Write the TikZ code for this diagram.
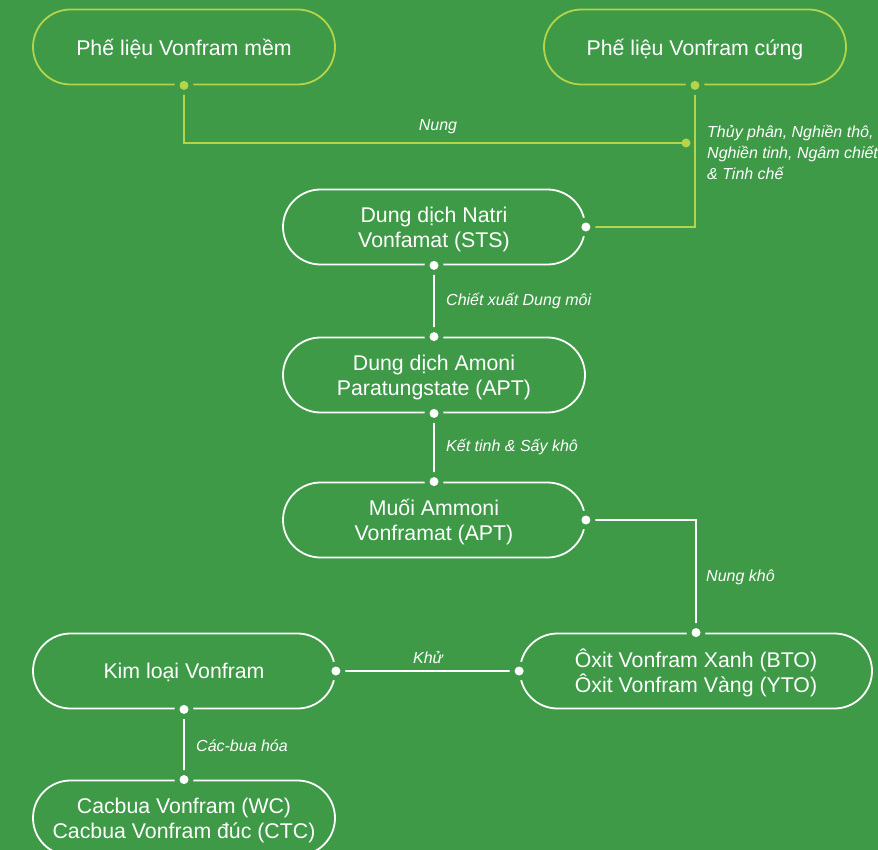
\documentclass[tikz,border=0pt]{standalone}
\usepackage{fontspec}
\setmainfont{Liberation Sans}
\definecolor{bg}{HTML}{3E9A47}
\definecolor{lime}{HTML}{B4D44C}
\begin{document}
\begin{tikzpicture}[x=1pt,y=-1pt,
  pill/.style={draw=white, line width=1.8pt, rounded corners=37.5pt, minimum width=302pt, minimum height=75pt, text=white, align=center, font=\fontsize{21.3}{25}\selectfont, inner sep=0pt, text depth=0pt},
  limepill/.style={pill, draw=lime},
  conn/.style={draw=white, line width=1.4pt},
  limeconn/.style={draw=lime, line width=1.4pt},
  lbl/.style={text=white, font=\itshape\fontsize{16}{21}\selectfont, inner sep=0pt}]
\fill[bg] (0,0) rectangle (878,850);
\useasboundingbox (0,0) rectangle (878,850);
\clip (0,0) rectangle (878,850);

\node[limepill] (mem) at (184,47) {Phế liệu Vonfram mềm};
\node[limepill] (cung) at (695,47) {Phế liệu Vonfram cứng};
\node[pill] (sts) at (434,227) {Dung dịch Natri\\Vonfamat (STS)};
\node[pill] (aptsol) at (434,375) {Dung dịch Amoni\\Paratungstate (APT)};
\node[pill] (muoi) at (434,520) {Muối Ammoni\\Vonframat (APT)};
\node[pill, minimum width=352pt] (oxit) at (696,671) {Ôxit Vonfram Xanh (BTO)\\Ôxit Vonfram Vàng (YTO)};
\node[pill] (kim) at (184,671) {Kim loại Vonfram};
\node[pill] (cac) at (184,818) {Cacbua Vonfram (WC)\\Cacbua Vonfram đúc (CTC)};
\coordinate (nung) at (686,143);

\draw[limeconn] (mem.south) |- (nung);
\draw[limeconn] (cung.south) |- (sts.east);
\draw[conn] (sts.south) -- (aptsol.north);
\draw[conn] (aptsol.south) -- (muoi.north);
\draw[conn] (muoi.east) -| (oxit.north);
\draw[conn] (oxit.west) -- (kim.east);
\draw[conn] (kim.south) -- (cac.north);

\foreach \p in {mem.south,cung.south,sts.east,sts.south,aptsol.north,aptsol.south,muoi.north,muoi.east,oxit.north,oxit.west,kim.east,kim.south,cac.north}
  \fill[bg] (\p) circle (9.5pt);
\foreach \p in {mem.south,cung.south,nung}
  \fill[lime] (\p) circle (4.5pt);
\foreach \p in {sts.east,sts.south,aptsol.north,aptsol.south,muoi.north,muoi.east,oxit.north,oxit.west,kim.east,kim.south,cac.north}
  \fill[white] (\p) circle (4.5pt);

\node[lbl] (l1) at (438,127) {Nung};
\node[lbl, anchor=north west, align=left] (l2) at (707,125) {Thủy phân, Nghiền thô,\\Nghiền tinh, Ngâm chiết\\\& Tinh chế};
\node[lbl, anchor=west] (l3) at (446,301) {Chiết xuất Dung môi};
\node[lbl, anchor=west] (l4) at (446,447) {Kết tinh \& Sấy khô};
\node[lbl, anchor=west] (l5) at (706,577) {Nung khô};
\node[lbl] (l6) at (428,658) {Khử};
\node[lbl, anchor=west] (l7) at (196,746) {Các-bua hóa};
\end{tikzpicture}
\end{document}
